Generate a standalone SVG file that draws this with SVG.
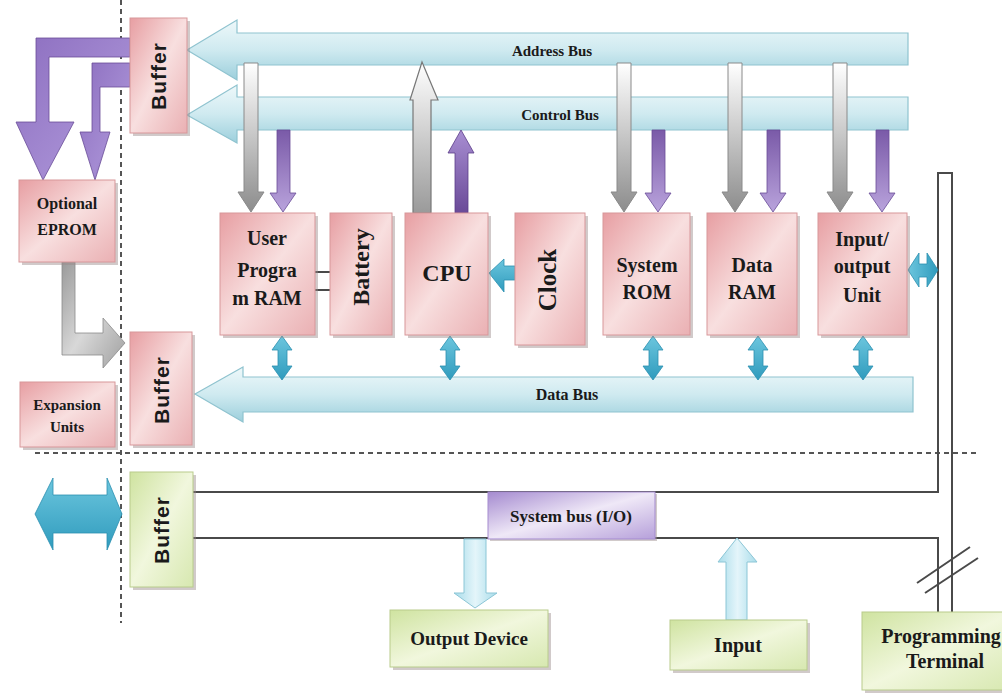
<svg xmlns="http://www.w3.org/2000/svg" width="1002" height="694" viewBox="0 0 1002 694">
<defs>
<linearGradient id="pink" x1="0" y1="0" x2="1" y2="1">
<stop offset="0" stop-color="#e79ea2"/><stop offset="0.5" stop-color="#f8dfdf"/><stop offset="1" stop-color="#eab0b3"/>
</linearGradient>
<linearGradient id="green" x1="0" y1="0" x2="1" y2="1">
<stop offset="0" stop-color="#cfe3a0"/><stop offset="0.5" stop-color="#f1f7dd"/><stop offset="1" stop-color="#d7e8b0"/>
</linearGradient>
<linearGradient id="violet" x1="0" y1="0" x2="1" y2="1">
<stop offset="0" stop-color="#a58bd0"/><stop offset="0.5" stop-color="#efe8f7"/><stop offset="1" stop-color="#b6a0da"/>
</linearGradient>
<linearGradient id="bus" x1="0" y1="0" x2="0" y2="1">
<stop offset="0" stop-color="#eef8fa"/><stop offset="0.5" stop-color="#cfeaf0"/><stop offset="1" stop-color="#9ccfdc"/>
</linearGradient>
<linearGradient id="grayDown" x1="0" y1="0" x2="0" y2="1">
<stop offset="0" stop-color="#ffffff"/><stop offset="1" stop-color="#8c8c8c"/>
</linearGradient>
<linearGradient id="grayUp" x1="0" y1="1" x2="0" y2="0">
<stop offset="0" stop-color="#9a9a9a"/><stop offset="1" stop-color="#ffffff"/>
</linearGradient>
<linearGradient id="purpleDown" x1="0" y1="0" x2="0" y2="1">
<stop offset="0" stop-color="#7a5aa8"/><stop offset="1" stop-color="#b9a3dc"/>
</linearGradient>
<linearGradient id="purpleUp" x1="0" y1="1" x2="0" y2="0">
<stop offset="0" stop-color="#6a4a98"/><stop offset="1" stop-color="#a88ed2"/>
</linearGradient>
<linearGradient id="purpleL" x1="0" y1="0" x2="1" y2="1">
<stop offset="0" stop-color="#8d6fc0"/><stop offset="0.6" stop-color="#a48bd2"/><stop offset="1" stop-color="#7c5cb0"/>
</linearGradient>
<linearGradient id="grayL" x1="0" y1="0" x2="1" y2="1">
<stop offset="0" stop-color="#9a9a9a"/><stop offset="0.5" stop-color="#d8d8d8"/><stop offset="1" stop-color="#a0a0a0"/>
</linearGradient>
<linearGradient id="teal" x1="0" y1="0" x2="0" y2="1">
<stop offset="0" stop-color="#6cc6de"/><stop offset="1" stop-color="#2f9bbd"/>
</linearGradient>
<linearGradient id="tealH" x1="0" y1="0" x2="1" y2="0">
<stop offset="0" stop-color="#6cc6de"/><stop offset="1" stop-color="#2f9bbd"/>
</linearGradient>
<linearGradient id="light" x1="0" y1="0" x2="1" y2="0">
<stop offset="0" stop-color="#a8dcea"/><stop offset="0.5" stop-color="#e4f5fa"/><stop offset="1" stop-color="#a8dcea"/>
</linearGradient>
</defs>
<style>
.pk{fill:url(#pink);stroke:#d8979a;stroke-width:1}
.gr{fill:url(#green);stroke:#b9cc8c;stroke-width:1}
.sh{fill:#9a8a8a;opacity:0.45}
.bus{fill:url(#bus);stroke:#8fc3cf;stroke-width:1.2}
.gd{fill:url(#grayDown);stroke:#8a8a8a;stroke-width:1}
.gu{fill:url(#grayUp);stroke:#777;stroke-width:1.2}
.pd{fill:url(#purpleDown);stroke:#6a4c98;stroke-width:0.8}
.pu{fill:url(#purpleUp);stroke:#5a3c88;stroke-width:0.8}
.tl{fill:url(#teal);stroke:#2b8fb0;stroke-width:0.8}
.tlh{fill:url(#tealH);stroke:#2b8fb0;stroke-width:0.8}
.lb{fill:url(#light);stroke:#8cc6d6;stroke-width:1}
.ln{fill:none;stroke:#4a4a4a;stroke-width:2}
.dash{fill:none;stroke:#555;stroke-width:2;stroke-dasharray:5 4}
text{font-family:"Liberation Serif","DejaVu Serif",serif;font-weight:bold;fill:#1a1a1a;text-anchor:middle}
.bf{font-family:"Liberation Sans","DejaVu Sans",sans-serif;font-size:21px;letter-spacing:1px}
.t20{font-size:20px}
.t16{font-size:16px}
</style>

<rect width="1002" height="694" fill="#ffffff"/>

<g id="dividers">
<path class="dash" d="M121,0 V623"/>
<path class="dash" d="M35,453 H977"/>
</g>

<g id="connectors">
<!-- buses -->
<polygon class="bus" points="187,50 237,20 237,33 908,33 908,65 237,65 237,80"/>
<polygon class="bus" points="187,115 237,85 237,97 908,97 908,130 237,130 237,143"/>
<polygon class="bus" points="195,394 243,367 243,377 913,377 913,412 243,412 243,422"/>
<!-- system lines -->
<path class="ln" d="M193,492 H938 V173 H952 V612"/>
<path class="ln" d="M193,538 H938 V612"/>
<path class="ln" d="M917,583 L970,547 M925,593 L978,558" stroke-width="2"/>
<path class="ln" d="M315,272 H330 M315,290 H330" stroke-width="2"/>
<!-- purple L arrows from top buffer to EPROM -->
<polygon fill="url(#purpleL)" stroke="#6a4c98" stroke-width="0.8" points="130,38 36,38 36,122 16,122 43,180 74,122 49,122 49,57 130,57"/>
<polygon fill="url(#purpleL)" stroke="#6a4c98" stroke-width="0.8" points="130,63 92,63 92,132 80,132 95,180 110,132 100,132 100,87 130,87"/>
<!-- gray L arrow EPROM to buffer -->
<polygon fill="url(#grayL)" stroke="#8a8a8a" stroke-width="0.8" points="62,262 75,262 75,333 103,333 103,318 125,343 103,368 103,355 62,355"/>
<!-- gray down arrows from address bus -->
<polygon class="gd" points="244,63 258,63 258,192 264,192 251,212 238,192 244,192"/>
<polygon class="gd" points="617,63 631,63 631,192 637,192 624,212 611,192 617,192"/>
<polygon class="gd" points="728,63 742,63 742,192 748,192 735,212 722,192 728,192"/>
<polygon class="gd" points="833,63 847,63 847,192 853,192 840,212 827,192 833,192"/>
<!-- purple down arrows from control bus -->
<polygon class="pd" points="277,130 290,130 290,193 296,193 283,212 270,193 277,193"/>
<polygon class="pd" points="652,130 665,130 665,193 671,193 658,212 645,193 652,193"/>
<polygon class="pd" points="767,130 780,130 780,193 786,193 773,212 760,193 767,193"/>
<polygon class="pd" points="876,130 889,130 889,193 895,193 882,212 869,193 876,193"/>
<!-- CPU up arrows -->
<polygon class="gu" points="413,213 431,213 431,100 438,100 422,62 410,100 413,100"/>
<polygon class="pu" points="455,213 468,213 468,153 474,153 461,130 448,153 455,153"/>
<!-- data bus double arrows -->
<polygon class="tl" points="278,350 272,350 282,336 292,350 287,350 287,366 292,366 282,380 272,366 278,366"/>
<polygon class="tl" points="446,350 440,350 450,336 460,350 455,350 455,366 460,366 450,380 440,366 446,366"/>
<polygon class="tl" points="649,350 643,350 653,336 663,350 658,350 658,366 663,366 653,380 643,366 649,366"/>
<polygon class="tl" points="754,350 748,350 758,336 768,350 763,350 763,366 768,366 758,380 748,366 754,366"/>
<polygon class="tl" points="859,350 853,350 863,336 873,350 868,350 868,366 873,366 863,380 853,366 859,366"/>
<!-- clock to CPU -->
<polygon class="tl" points="515,266 515,280 504,280 504,292 489,273 504,259 504,266"/>
<!-- I/O unit to line -->
<polygon class="tlh" points="908,270 919,253 919,264 927,264 927,253 938,270 927,287 927,277 919,277 919,287"/>
<!-- bottom-left double arrow -->
<polygon class="tl" points="35,514 53,478 53,495 107,495 107,478 122,514 107,550 107,533 53,533 53,550"/>
<!-- output / input arrows -->
<polygon class="lb" points="464,539 486,539 486,593 497,593 475,608 454,593 464,593"/>
<polygon class="lb" points="726,620 747,620 747,562 757,562 737,538 718,562 726,562"/>
</g>

<g id="buffer-top">
<rect class="sh" x="133" y="21" width="57" height="115"/>
<rect class="pk" x="130" y="18" width="57" height="115"/>
<text class="bf" transform="rotate(-90 158 76)" x="158" y="76" dominant-baseline="central">Buffer</text>
</g>
<g id="eprom">
<rect class="sh" x="22" y="183" width="96" height="82"/>
<rect class="pk" x="19" y="180" width="96" height="82"/>
<text class="t16" x="67" y="209">Optional</text>
<text class="t16" x="67" y="235">EPROM</text>
</g>
<g id="buffer-mid">
<rect class="sh" x="133" y="335" width="62" height="113"/>
<rect class="pk" x="130" y="332" width="62" height="113"/>
<text class="bf" transform="rotate(-90 161 390)" x="161" y="390" dominant-baseline="central">Buffer</text>
</g>
<g id="expansion">
<rect class="sh" x="23" y="385" width="95" height="65"/>
<rect class="pk" x="20" y="382" width="95" height="65"/>
<text font-size="15" x="67" y="410">Expansion</text>
<text font-size="15" x="67" y="432">Units</text>
</g>
<g id="user-ram">
<rect class="sh" x="223" y="216" width="95" height="122"/>
<rect class="pk" x="220" y="213" width="95" height="122"/>
<text class="t20" x="267" y="245">User</text>
<text class="t20" x="267" y="277">Progra</text>
<text class="t20" x="267" y="305">m RAM</text>
</g>
<g id="battery">
<rect class="sh" x="333" y="216" width="62" height="122"/>
<rect class="pk" x="330" y="213" width="62" height="122"/>
<text font-size="24" transform="rotate(-90 361 267)" x="361" y="267" dominant-baseline="central">Battery</text>
</g>
<g id="cpu">
<rect class="sh" x="408" y="216" width="83" height="122"/>
<rect class="pk" x="405" y="213" width="83" height="122"/>
<text font-size="24" x="447" y="281">CPU</text>
</g>
<g id="clock">
<rect class="sh" x="518" y="216" width="70" height="132"/>
<rect class="pk" x="515" y="213" width="70" height="132"/>
<text font-size="25" transform="rotate(-90 547 280)" x="547" y="280" dominant-baseline="central">Clock</text>
</g>
<g id="system-rom">
<rect class="sh" x="606" y="216" width="87" height="122"/>
<rect class="pk" x="603" y="213" width="87" height="122"/>
<text class="t20" x="647" y="272">System</text>
<text class="t20" x="647" y="299">ROM</text>
</g>
<g id="data-ram">
<rect class="sh" x="710" y="216" width="90" height="122"/>
<rect class="pk" x="707" y="213" width="90" height="122"/>
<text class="t20" x="752" y="272">Data</text>
<text class="t20" x="752" y="299">RAM</text>
</g>
<g id="io-unit">
<rect class="sh" x="821" y="216" width="89" height="122"/>
<rect class="pk" x="818" y="213" width="89" height="122"/>
<text class="t20" x="862" y="246">Input/</text>
<text class="t20" x="862" y="273">output</text>
<text class="t20" x="862" y="302">Unit</text>
</g>
<g id="address-bus-label"><text font-size="15" x="552" y="56">Address Bus</text></g>
<g id="control-bus-label"><text font-size="15" x="560" y="120">Control Bus</text></g>
<g id="data-bus-label"><text font-size="16" x="567" y="400">Data Bus</text></g>

<g id="buffer-io">
<rect class="sh" x="133" y="475" width="63" height="115"/>
<rect class="gr" x="130" y="472" width="63" height="115"/>
<text class="bf" transform="rotate(-90 161 530)" x="161" y="530" dominant-baseline="central">Buffer</text>
</g>
<g id="system-bus">
<rect class="sh" x="490" y="494" width="167" height="47"/>
<rect x="488" y="492" width="167" height="47" fill="url(#violet)" stroke="#a58bd0" stroke-width="1"/>
<text font-size="17" x="571" y="522">System bus (I/O)</text>
</g>
<g id="output-device">
<rect class="sh" x="393" y="613" width="158" height="57"/>
<rect class="gr" x="390" y="610" width="158" height="57"/>
<text font-size="19" x="469" y="645">Output Device</text>
</g>
<g id="input">
<rect class="sh" x="673" y="623" width="137" height="50"/>
<rect class="gr" x="670" y="620" width="137" height="50"/>
<text font-size="20" x="738" y="652">Input</text>
</g>
<g id="programming-terminal">
<rect class="sh" x="865" y="615" width="150" height="78"/>
<rect class="gr" x="862" y="612" width="150" height="78"/>
<text font-size="20" x="941" y="643">Programming</text>
<text font-size="20" x="945" y="668">Terminal</text>
</g>
</svg>
